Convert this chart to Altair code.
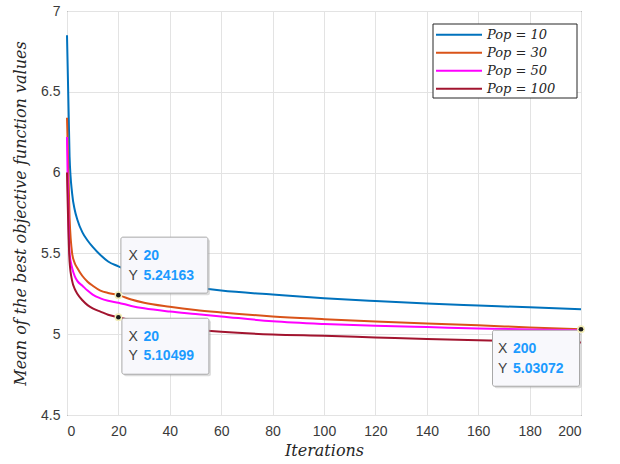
import altair as alt
import pandas as pd

# ---- data ----
iters = [0, 1, 2, 3, 4, 6, 8, 10, 13, 16, 20, 25, 30, 40, 50, 60, 80, 100, 120, 140, 160, 180, 200]
pop10 = [6.85, 6.10, 5.87, 5.77, 5.71, 5.63, 5.58, 5.54, 5.49, 5.45, 5.42, 5.385, 5.355, 5.315, 5.29,
         5.27, 5.245, 5.222, 5.205, 5.19, 5.178, 5.166, 5.155]
pop30 = [6.34, 5.72, 5.50, 5.44, 5.41, 5.36, 5.325, 5.30, 5.27, 5.255, 5.24163, 5.215, 5.195, 5.17, 5.15,
         5.135, 5.11, 5.093, 5.078, 5.066, 5.055, 5.042, 5.03072]
pop50 = [6.22, 5.50, 5.41, 5.36, 5.33, 5.30, 5.27, 5.245, 5.222, 5.207, 5.195, 5.175, 5.16, 5.14, 5.125,
         5.11, 5.08, 5.063, 5.052, 5.044, 5.036, 5.029, 5.024]
pop100 = [6.00, 5.45, 5.33, 5.28, 5.25, 5.21, 5.18, 5.16, 5.14, 5.12, 5.10499, 5.085, 5.07, 5.045, 5.028,
          5.015, 4.998, 4.99, 4.98, 4.97, 4.962, 4.955, 4.948]
series_names = ["Pop = 10", "Pop = 30", "Pop = 50", "Pop = 100"]
series_colors = ["#0072BD", "#D95319", "#FF00FF", "#A2142F"]

x_ticks = [0, 20, 40, 60, 80, 100, 120, 140, 160, 180, 200]
y_ticks = [4.5, 5, 5.5, 6, 6.5, 7]

tip_x = [20, 20, 200]
tip_y = [5.24163, 5.10499, 5.03072]
tip_xlabel = ["20", "20", "200"]
tip_ylabel = ["5.24163", "5.10499", "5.03072"]

# ---- tables ----
rows = []
for name, vals in zip(series_names, [pop10, pop30, pop50, pop100]):
    for it, v in zip(iters, vals):
        rows.append({"Iterations": it, "value": v, "series": name})
df = pd.DataFrame(rows)
tips = pd.DataFrame({"x": tip_x, "y": tip_y, "xl": tip_xlabel, "yl": tip_ylabel, "id": [0, 1, 2]})

xscale = alt.Scale(domain=[0, 200], nice=False, zero=False)
yscale = alt.Scale(domain=[4.5, 7], nice=False, zero=False)

serif = "DejaVu Serif"
sans = "Liberation Sans"

lines = alt.Chart(df).mark_line(strokeWidth=2, interpolate="monotone").encode(
    x=alt.X("Iterations:Q", scale=xscale,
            axis=alt.Axis(values=x_ticks, title="Iterations", titleFont=serif, titleFontStyle="italic",
                          titleFontWeight="normal", titleFontSize=16, titleColor="#262626", titlePadding=4)),
    y=alt.Y("value:Q", scale=yscale,
            axis=alt.Axis(values=y_ticks, format="~g", title="Mean of the best objective function values",
                          titleFont=serif, titleFontStyle="italic", titleFontWeight="normal",
                          titleFontSize=16, titleColor="#262626", titlePadding=12)),
    color=alt.Color("series:N", scale=alt.Scale(domain=series_names, range=series_colors),
                    legend=alt.Legend(orient="none", legendX=366, legendY=13, title=None,
                                      symbolType="stroke", symbolStrokeWidth=2, symbolSize=2116,
                                      clipHeight=17.5, labelFont=serif, labelFontStyle="italic",
                                      labelFontSize=13, labelColor="#262626", strokeColor="transparent",
                                      fillColor="transparent", padding=2, labelOffset=4, rowPadding=0)),
    order=alt.Order("Iterations:Q"),
)

# legend frame (decoration, in pixels of the plot area)
legend_frame = alt.Chart(pd.DataFrame({"k": [0]})).mark_rect(
    fill="white", stroke="#262626", strokeWidth=1
).encode(x=alt.value(366), x2=alt.value(510), y=alt.value(13), y2=alt.value(87))

layers = [lines, legend_frame]
offs = [  # (box dx, box dy, text dx, text dy1, text dy2)
    (46, -30, 10, -39, -19),
    (47, 29, 10, 20, 39),
    (-45, 29, -83, 20, 40),
]
for i, (bx, by, tx, t1, t2) in enumerate(offs):
    base = alt.Chart(tips).transform_filter(alt.datum.id == i).encode(
        x=alt.X("x:Q", scale=xscale), y=alt.Y("y:Q", scale=yscale))
    layers.append(base.mark_rect(width=87, height=56, xOffset=bx + 2, yOffset=by + 2,
                                 fill="#9a9a9a", opacity=0.35, cornerRadius=2))
    layers.append(base.mark_rect(width=87, height=56, xOffset=bx, yOffset=by, fill="#F8F8FC",
                                 stroke="#A8A8A8", strokeWidth=1, cornerRadius=2))
    layers.append(base.mark_text(text="X", align="left", baseline="middle", dx=tx, dy=t1,
                                 font=sans, fontSize=14, color="#404040"))
    layers.append(base.mark_text(text="Y", align="left", baseline="middle", dx=tx, dy=t2,
                                 font=sans, fontSize=14, color="#404040"))
    layers.append(base.mark_text(align="left", baseline="middle", dx=tx + 15, dy=t1, font=sans,
                                 fontSize=14, fontWeight="bold", color="#1C9BFF").encode(text="xl:N"))
    layers.append(base.mark_text(align="left", baseline="middle", dx=tx + 15, dy=t2, font=sans,
                                 fontSize=14, fontWeight="bold", color="#1C9BFF").encode(text="yl:N"))
    layers.append(base.mark_circle(size=60, color="#F2EDB8", opacity=1))
    layers.append(base.mark_circle(size=22, color="#1a1a1a", opacity=1))

chart = alt.layer(*layers).properties(
    width=514, height=404,
    autosize=alt.AutoSizeParams(type="none"),
    padding={"left": 67, "top": 11, "right": 39, "bottom": 49},
).configure_view(stroke="#262626", strokeWidth=1).configure_axis(
    grid=True, gridColor="#E3E3E3", gridWidth=1, domain=False, ticks=False,
    labelFont=sans, labelFontSize=14, labelColor="#3a3a3a", labelPadding=7,
).configure_axisX(labelPadding=9)

chart.save("out.html", embed_options={"renderer": "svg", "actions": False})
